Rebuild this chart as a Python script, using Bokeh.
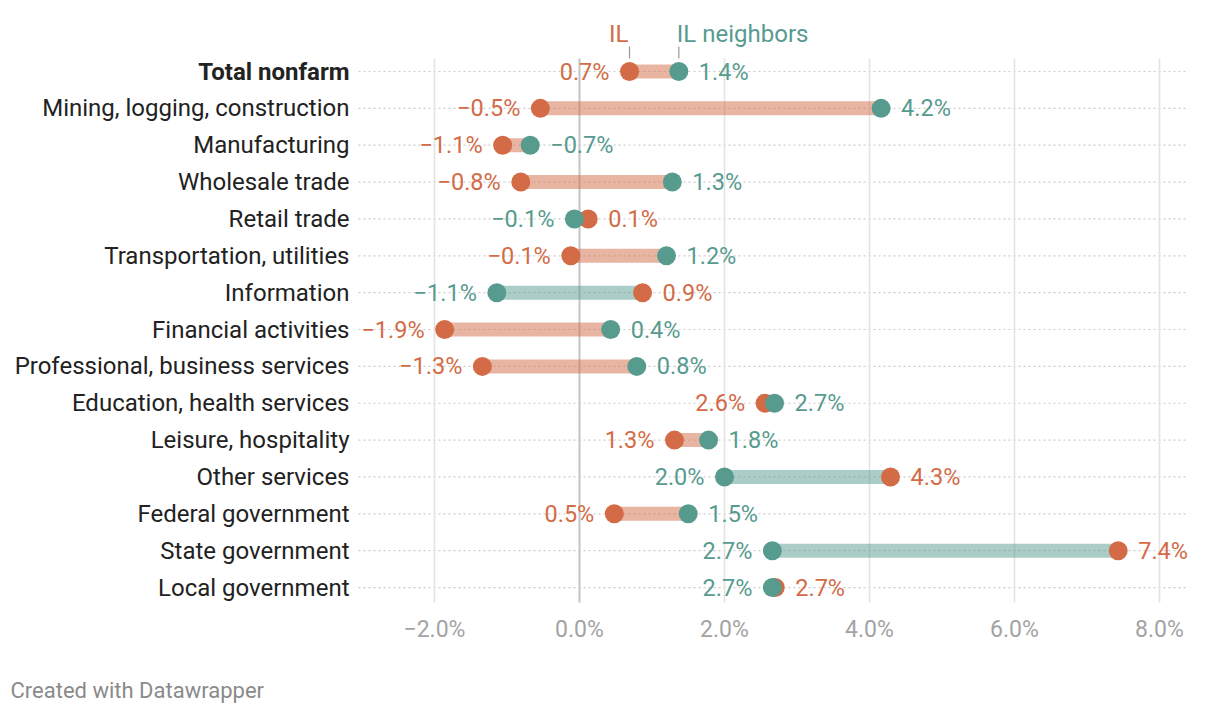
from bokeh.plotting import figure
from bokeh.models import ColumnDataSource, Range1d
from bokeh.core.properties import value
from bokeh.embed import file_html
from bokeh.resources import INLINE

# ---------------- data ----------------
categories = [
    "Total nonfarm",
    "Mining, logging, construction",
    "Manufacturing",
    "Wholesale trade",
    "Retail trade",
    "Transportation, utilities",
    "Information",
    "Financial activities",
    "Professional, business services",
    "Education, health services",
    "Leisure, hospitality",
    "Other services",
    "Federal government",
    "State government",
    "Local government",
]
il = [0.69, -0.54, -1.06, -0.81, 0.12, -0.12, 0.87, -1.86, -1.34, 2.56, 1.31, 4.29, 0.48, 7.43, 2.70]
neighbors = [1.37, 4.16, -0.68, 1.28, -0.07, 1.20, -1.14, 0.43, 0.79, 2.69, 1.78, 2.00, 1.50, 2.66, 2.66]
series_names = ["IL", "IL neighbors"]
x_ticks = [-2, 0, 2, 4, 6, 8]
x_tick_labels = ["\u22122.0%", "0.0%", "2.0%", "4.0%", "6.0%", "8.0%"]
footer = "Created with Datawrapper"

# ---------------- styles ----------------
ORANGE = "#d36b47"
TEAL = "#579b8f"
FONT = value("Roboto")


def fmt(v):
    r = round(v, 1)
    return ("\u2212" if r < 0 else "") + f"{abs(r):.1f}%"


n = len(categories)
rows = list(range(n))
lo, hi, lo_c, hi_c, bar_c, lo_l, hi_l = [], [], [], [], [], [], []
for a, b in zip(il, neighbors):
    if a <= b:
        lo.append(a); hi.append(b); lo_c.append(ORANGE); hi_c.append(TEAL)
    else:
        lo.append(b); hi.append(a); lo_c.append(TEAL); hi_c.append(ORANGE)
    lo_l.append(fmt(min(a, b)))
    hi_l.append(fmt(max(a, b)))
    bar_c.append(lo_c[-1])

# pixel geometry (canvas coords): x=0 at 579, 72.5 px per 1%; row0 at 71, 36.86 px per row
PX0, PXU = 579.0, 72.5
PY0, PYU = 71.0, 36.86
W, H = 1212, 706


def dx(px):
    return (px - PX0) / PXU


def dy(py):
    return (py - PY0) / PYU


src = ColumnDataSource(dict(
    y=rows, il=il, nb=neighbors, lo=lo, hi=hi, lo_c=lo_c, hi_c=hi_c, bar_c=bar_c,
    lo_l=lo_l, hi_l=hi_l, cat=categories,
    style=["bold" if i == 0 else "normal" for i in rows],
    gx0=[dx(358)] * n, gx1=[dx(1187)] * n, cx=[dx(349)] * n,
))

p = figure(
    width=W, height=H,
    x_range=Range1d(dx(0), dx(W)),
    y_range=Range1d(dy(H), dy(0)),
    x_axis_location=None, y_axis_location=None,
    output_backend="svg", toolbar_location=None,
    min_border=0,
)
p.outline_line_color = None
p.background_fill_color = "white"
p.border_fill_color = "white"
p.grid.visible = False

# dotted row lines
p.segment(x0="gx0", y0="y", x1="gx1", y1="y", source=src, line_color="#cccccc",
          line_dash="2 3", line_width=1.2)

# vertical grid lines
nt = len(x_ticks)
p.segment(x0=x_ticks, y0=[dy(58)] * nt, x1=x_ticks, y1=[dy(602)] * nt,
          line_color=["#c4c4c4" if t == 0 else "#e3e3e3" for t in x_ticks],
          line_width=[2 if t == 0 else 1.6 for t in x_ticks])

# x tick labels
p.text(x=x_ticks, y=[dy(629)] * nt, text=x_tick_labels, text_align="center",
       text_baseline="middle", text_color="#a3a3a3", text_font=FONT, text_font_size="23px")

# bars
p.segment(x0="lo", y0="y", x1="hi", y1="y", source=src, line_color="bar_c",
          line_alpha=0.5, line_width=14, line_cap="butt")

# dots
p.scatter(x="il", y="y", source=src, size=19, fill_color=ORANGE, line_color=None)
p.scatter(x="nb", y="y", source=src, size=19, fill_color=TEAL, line_color=None)

# value labels
p.text(x="lo", y="y", text="lo_l", source=src, x_offset=-20, text_align="right",
       text_baseline="middle", text_color="lo_c", text_font=FONT, text_font_size="23.5px")
p.text(x="hi", y="y", text="hi_l", source=src, x_offset=20, text_align="left",
       text_baseline="middle", text_color="hi_c", text_font=FONT, text_font_size="23.5px")

# legend labels above first row
p.text(x=[il[0]], y=[dy(33)], text=[series_names[0]], text_align="right", x_offset=-1,
       text_baseline="middle", text_color=ORANGE, text_font=FONT, text_font_size="24px")
p.text(x=[neighbors[0]], y=[dy(33)], text=[series_names[1]], text_align="left", x_offset=-2,
       text_baseline="middle", text_color=TEAL, text_font=FONT, text_font_size="24px")
p.segment(x0=[il[0], neighbors[0]], y0=[dy(46)] * 2,
          x1=[il[0], neighbors[0]], y1=[dy(58)] * 2,
          line_color="#999999", line_width=1.2)

# category labels
p.text(x="cx", y="y", text="cat", source=src, text_align="right", text_baseline="middle",
       text_color="#222222", text_font=FONT, text_font_size="24px", text_font_style="style")

# footer
p.text(x=[dx(10)], y=[dy(690)], text=[footer], text_align="left", text_baseline="middle",
       text_color="#8a8a8a", text_font=FONT, text_font_size="22px")

open("out.html", "w").write(file_html(p, INLINE))
